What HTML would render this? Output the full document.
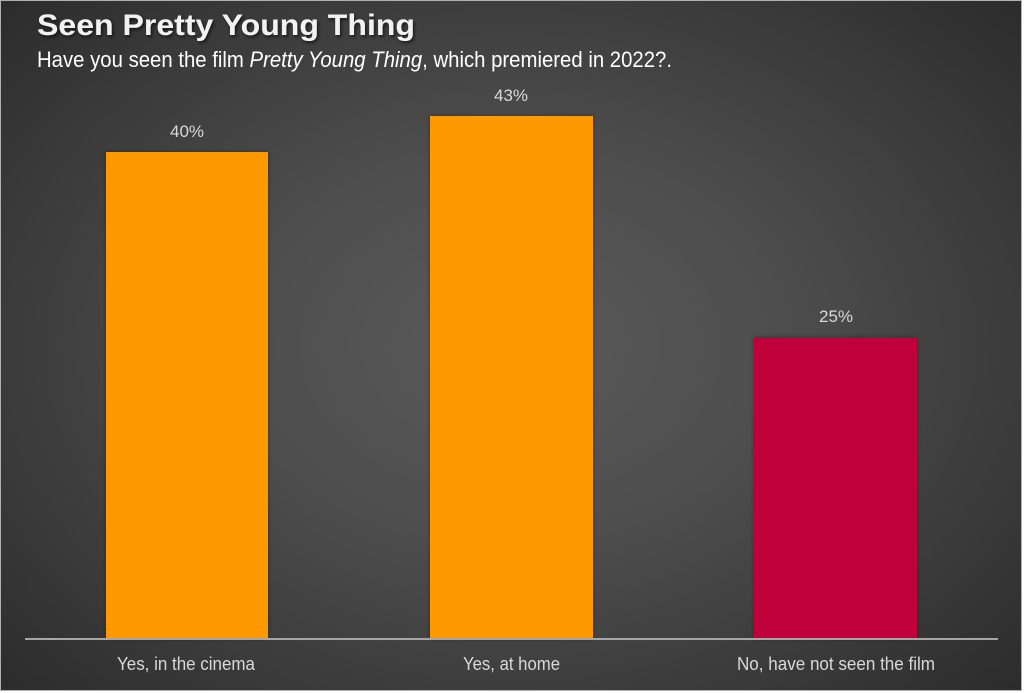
<!DOCTYPE html>
<html>
<head>
<meta charset="utf-8">
<style>
html,body{margin:0;padding:0;background:#ffffff;}
body{width:1024px;height:693px;overflow:hidden;position:relative;}
#frame{position:absolute;left:0;top:0;width:1020px;height:689px;border:1px solid #b0b0b0;
background:radial-gradient(ellipse 75% 80% at 50% 50%, #5a5a5a 0%, #4e4e4e 35%, #363636 75%, #262626 100%);}
svg{position:absolute;left:0;top:0;}
</style>
</head>
<body>
<div id="frame"></div>
<svg width="1024" height="693" viewBox="0 0 1024 693" xmlns="http://www.w3.org/2000/svg">
  <defs>
    <filter id="sh" x="-10%" y="-10%" width="120%" height="130%">
      <feDropShadow dx="1.5" dy="2" stdDeviation="1.5" flood-color="#000" flood-opacity="0.6"/>
    </filter>
    <filter id="bs" x="-10%" y="-10%" width="120%" height="120%">
      <feDropShadow dx="0" dy="0" stdDeviation="2" flood-color="#000" flood-opacity="0.35"/>
    </filter>
  </defs>
  <text x="37" y="35" font-family="Liberation Sans, sans-serif" font-weight="bold" font-size="30" fill="#f2f2f2" textLength="378" lengthAdjust="spacingAndGlyphs" filter="url(#sh)">Seen Pretty Young Thing</text>
  <text x="37" y="67" font-family="Liberation Sans, sans-serif" font-size="22" fill="#ffffff" textLength="635" lengthAdjust="spacingAndGlyphs">Have you seen the film <tspan font-style="italic">Pretty Young Thing</tspan>, which premiered in 2022?.</text>

  <rect x="106" y="152" width="162" height="487" fill="#FF9900" filter="url(#bs)"/>
  <rect x="430" y="116" width="163" height="523" fill="#FF9900" filter="url(#bs)"/>
  <rect x="754" y="337" width="163" height="302" fill="#C0003B" filter="url(#bs)"/>

  <line x1="25" y1="639" x2="998" y2="639" stroke="#a6a6a6" stroke-width="2"/>

  <g font-family="Liberation Sans, sans-serif" font-size="17" fill="#d9d9d9" text-anchor="middle">
    <text x="187" y="137">40%</text>
    <text x="511" y="101">43%</text>
    <text x="836" y="322">25%</text>
  </g>
  <g font-family="Liberation Sans, sans-serif" font-size="18" fill="#d9d9d9">
    <text x="117" y="670" textLength="138" lengthAdjust="spacingAndGlyphs">Yes, in the cinema</text>
    <text x="463" y="670" textLength="97" lengthAdjust="spacingAndGlyphs">Yes, at home</text>
    <text x="737" y="670" textLength="198" lengthAdjust="spacingAndGlyphs">No, have not seen the film</text>
  </g>
</svg>
</body>
</html>
